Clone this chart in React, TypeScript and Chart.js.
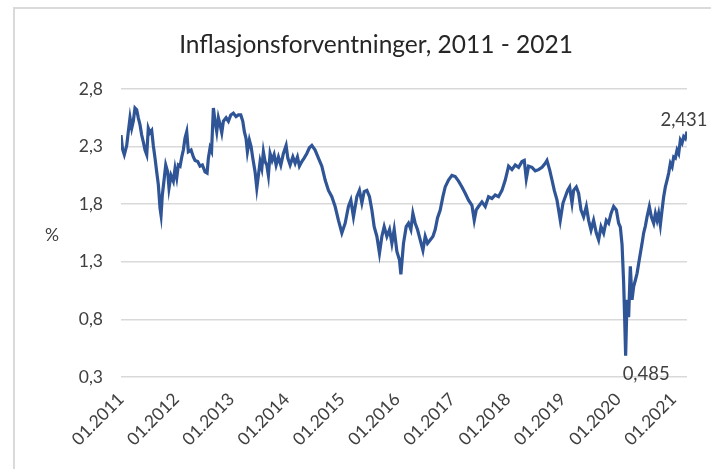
import React, { useEffect, useRef } from "react";
import { Chart, registerables } from "chart.js";

Chart.register(...registerables);

const TITLE = "Inflasjonsforventninger, 2011 - 2021";
const START_YEAR = 2011;
const Y_TICKS = [0.3, 0.8, 1.3, 1.8, 2.3, 2.8];

// months since 01.2011
const months = [
  0, 0.33, 0.72, 1.24, 1.59, 1.96, 2.33, 2.67, 3.04, 3.41, 3.76, 4.13, 4.5, 4.85, 5.22, 5.59,
  5.93, 6.3, 6.67, 7.02, 7.39, 7.76, 8.11, 8.48, 8.7, 8.98, 9.41, 9.72, 10.15, 10.43, 10.87,
  11.37, 11.74, 12.11, 12.46, 12.83, 13.2, 13.54, 13.91, 14.28, 14.63, 15.22, 15.72, 16.09,
  16.67, 17.17, 17.67, 18.26, 18.7, 18.98, 19.35, 19.67, 20.07, 20.43, 20.8, 21.15, 21.52,
  21.89, 22.24, 22.83, 23.33, 23.85, 24.41, 25.0, 25.5, 26.02, 26.46, 26.8, 27.17, 27.46,
  27.89, 28.26, 28.63, 29.13, 29.5, 29.85, 30.22, 30.59, 30.93, 31.3, 31.67, 32.02, 32.39,
  32.83, 33.26, 33.7, 34.2, 34.72, 35.28, 35.87, 36.24, 36.74, 37.33, 37.83, 38.33, 38.76,
  39.28, 39.78, 40.37, 40.93, 41.46, 42.17, 42.89, 43.63, 44.35, 45.07, 45.8, 46.52, 47.24,
  47.98, 48.7, 49.41, 49.93, 50.5, 51.24, 51.8, 52.33, 52.83, 53.41, 53.98, 54.5, 55.0,
  55.59, 56.15, 56.67, 57.17, 57.76, 58.33, 58.85, 59.35, 59.93, 60.5, 60.8, 61.37, 61.96,
  62.46, 62.98, 63.41, 63.91, 64.41, 65.0, 65.59, 66.09, 66.59, 67.17, 67.76, 68.26, 68.76,
  69.35, 69.93, 70.43, 71.15, 71.89, 72.61, 73.33, 74.07, 74.78, 75.5, 76.24, 76.74, 77.17,
  77.67, 78.41, 79.13, 79.85, 80.59, 81.3, 82.02, 82.76, 83.48, 84.2, 84.93, 85.65, 86.37,
  87.11, 87.61, 88.04, 88.54, 89.28, 90.0, 90.72, 91.46, 92.17, 92.54, 93.11, 93.63, 94.13,
  94.72, 95.07, 95.43, 96.02, 96.52, 97.02, 97.46, 97.98, 98.33, 98.91, 99.41, 99.93, 100.5,
  101.09, 101.59, 102.11, 102.67, 103.26, 103.76, 104.28, 104.85, 105.43, 105.93, 106.46,
  107.02, 107.61, 108.11, 108.48, 108.85, 109.2, 109.41, 109.63, 109.93, 110.28, 110.65,
  111.02, 111.37, 111.74, 112.11, 112.46, 112.83, 113.2, 113.54, 113.91, 114.28, 114.78,
  115.22, 115.72, 116.09, 116.46, 116.8, 117.17, 117.54, 117.89, 118.26, 118.63, 118.98,
  119.35, 119.72, 120.07, 120.43, 120.8, 121.15, 121.52, 121.89, 122.24, 122.59, 122.96,
];

// inflation expectations, %
const values = [
  2.4, 2.28, 2.23, 2.31, 2.43, 2.55, 2.46, 2.52, 2.635, 2.62, 2.55, 2.49, 2.4, 2.34, 2.27, 2.23,
  2.46, 2.42, 2.44, 2.31, 2.2, 2.08, 1.97, 1.765, 1.705, 1.88, 2.03, 2.14, 2.08, 1.94, 2.05,
  2.0, 2.11, 2.03, 2.14, 2.13, 2.21, 2.27, 2.375, 2.43, 2.255, 2.27, 2.21, 2.18,
  2.17, 2.13, 2.14, 2.08, 2.07, 2.2, 2.29, 2.26, 2.635, 2.52, 2.43, 2.55, 2.49,
  2.42, 2.52, 2.55, 2.52, 2.575, 2.59, 2.56, 2.575, 2.575, 2.52, 2.43, 2.37, 2.255,
  2.357, 2.3, 2.2, 2.08, 1.94, 2.05, 2.17, 2.11, 2.255, 2.17, 2.14, 2.05, 2.24,
  2.18, 2.23, 2.14, 2.21, 2.14, 2.24, 2.31, 2.2, 2.14, 2.21, 2.155, 2.21, 2.13,
  2.17, 2.2, 2.24, 2.29, 2.31, 2.27, 2.2, 2.13, 2.01, 1.92, 1.865, 1.78, 1.66,
  1.55, 1.635, 1.78, 1.835, 1.69, 1.865, 1.92, 1.81, 1.91, 1.92, 1.865, 1.75, 1.605,
  1.52, 1.375, 1.52, 1.605, 1.52, 1.58, 1.46, 1.58, 1.39, 1.315, 1.19, 1.46, 1.605,
  1.635, 1.58, 1.72, 1.635, 1.58, 1.49, 1.4, 1.52, 1.46, 1.49, 1.52, 1.58, 1.68,
  1.75, 1.865, 1.95, 2.01, 2.05, 2.04, 2.0, 1.95, 1.895, 1.835, 1.79, 1.66, 1.75,
  1.78, 1.82, 1.78, 1.865, 1.85, 1.88, 1.865, 1.92, 2.01, 2.13, 2.1, 2.14, 2.12,
  2.17, 2.18, 2.02, 2.13, 2.12, 2.09, 2.1, 2.12, 2.155, 2.18, 2.1, 2.01, 1.92,
  1.835, 1.75, 1.66, 1.81, 1.865, 1.92, 1.95, 1.81, 1.92, 1.95, 1.895, 1.75, 1.69,
  1.78, 1.66, 1.576, 1.66, 1.55, 1.49, 1.605, 1.55, 1.66, 1.635, 1.72,
  1.78, 1.75, 1.635, 1.6, 1.45, 1.115, 0.82, 0.485, 0.97, 0.82, 1.26,
  0.97, 1.085, 1.14, 1.2, 1.285, 1.375, 1.46, 1.55, 1.61, 1.69, 1.78,
  1.69, 1.635, 1.72, 1.66, 1.72, 1.62, 1.75, 1.865, 1.95, 2.01, 2.07,
  2.155, 2.125, 2.21, 2.2, 2.27, 2.24, 2.357, 2.33, 2.386, 2.37, 2.431,
];

const FONT = "Lato, 'Open Sans', sans-serif";
const TEXT = "#404040";
const LINE = "#2F5597";
const GRID = "#d9d9d9";
const TICK_SIZE = 17.5;
const LABEL_SIZE = 18.5;

const fmt = (v: number) => String(v).replace(".", ",");

const annotations = {
  id: "annotations",
  afterDatasetsDraw(chart: any) {
    const { ctx, chartArea, scales } = chart;
    const xs = scales.x;
    const ys = scales.y;
    ctx.save();
    ctx.fillStyle = TEXT;
    ctx.font = `${TICK_SIZE}px ${FONT}`;
    ctx.textAlign = "center";
    ctx.textBaseline = "middle";
    ctx.fillText("%", 52, (chartArea.top + chartArea.bottom) / 2 + 2);
    ctx.font = `${LABEL_SIZE}px ${FONT}`;
    const li = values.length - 1;
    const lx = xs.getPixelForValue(months[li]);
    const ly = ys.getPixelForValue(values[li]);
    ctx.textAlign = "center";
    ctx.textBaseline = "bottom";
    ctx.fillText(fmt(values[li]), lx - 3, ly - 2);
    let mi = 0;
    values.forEach((v, i) => {
      if (v < values[mi]) mi = i;
    });
    const mx = xs.getPixelForValue(months[mi]);
    const my = ys.getPixelForValue(values[mi]);
    ctx.textAlign = "left";
    ctx.textBaseline = "middle";
    ctx.fillText(fmt(values[mi]), mx - 3, my + 18);
    ctx.restore();
  },
};

export default function App() {
  const ref = useRef<HTMLCanvasElement>(null);
  useEffect(() => {
    if (!ref.current) return;
    const chart = new Chart(ref.current, {
      type: "line",
      data: {
        datasets: [
          {
            data: months.map((m, i) => ({ x: m, y: values[i] })),
            borderColor: LINE,
            backgroundColor: LINE,
            borderWidth: 3.2,
            pointRadius: 0,
            tension: 0,
          },
        ],
      },
      options: {
        animation: false,
        responsive: false,
        devicePixelRatio: 1,
        layout: { padding: { left: 65, right: 24, top: 0, bottom: 0 } },
        plugins: {
          legend: { display: false },
          tooltip: { enabled: false },
          title: {
            display: true,
            text: TITLE,
            color: "#262626",
            font: { family: FONT, size: 24.5, weight: "normal" },
            padding: { top: 30.3, bottom: 29.3 },
          },
        },
        scales: {
          x: {
            type: "linear",
            min: months[0],
            max: months[months.length - 1],
            grid: { display: false, drawTicks: false },
            border: { display: false },
            afterFit: (s: any) => {
              s.height = 92;
            },
            ticks: {
              stepSize: 12,
              includeBounds: false,
              autoSkip: false,
              minRotation: 45,
              maxRotation: 45,
              padding: 12,
              color: TEXT,
              font: { family: FONT, size: TICK_SIZE },
              callback: (v: any) => "01." + (START_YEAR + Math.round(Number(v) / 12)),
            },
          },
          y: {
            min: Y_TICKS[0],
            max: Y_TICKS[Y_TICKS.length - 1],
            grid: { color: GRID, lineWidth: 1.5, drawTicks: false },
            border: { display: false },
            afterFit: (s: any) => {
              s.width = 56;
            },
            afterBuildTicks: (s: any) => {
              s.ticks = Y_TICKS.map((v) => ({ value: v }));
            },
            ticks: {
              padding: 18,
              color: TEXT,
              font: { family: FONT, size: TICK_SIZE },
              callback: (v: any) => fmt(Number(Number(v).toFixed(1))),
            },
          },
        },
      },
      plugins: [annotations],
    });
    return () => chart.destroy();
  }, []);

  return (
    <div style={{ position: "fixed", left: 0, top: 0, width: 711, height: 469, background: "#fff", overflow: "hidden" }}>
      <div
        style={{
          position: "absolute",
          left: 13,
          top: 7,
          width: 720,
          height: 480,
          borderLeft: "2px solid #dadada",
          borderTop: "2px solid #dadada",
        }}
      />
      <canvas ref={ref} width={711} height={469} style={{ position: "absolute", left: 0, top: 0 }} />
    </div>
  );
}
